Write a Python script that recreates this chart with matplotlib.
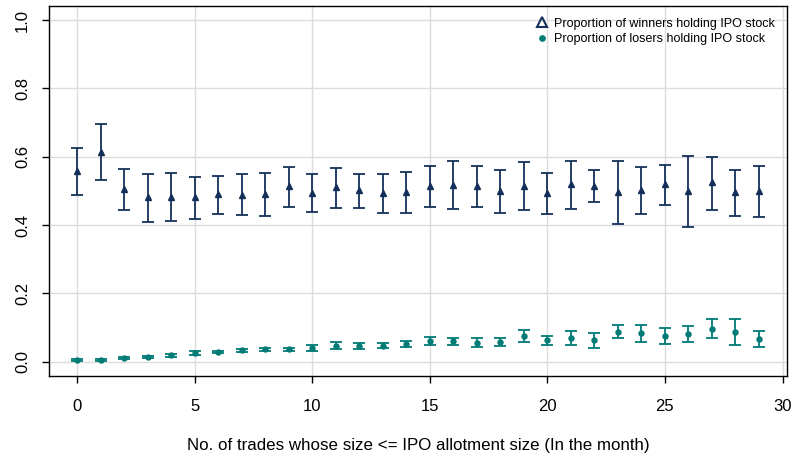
import numpy as np
import matplotlib
matplotlib.use("Agg")
from matplotlib import pyplot as plt
from matplotlib.lines import Line2D

plt.rcParams['font.family'] = ['Liberation Sans', 'DejaVu Sans']

trades = np.arange(0, 30)

# proportion of winners holding IPO stock, with CI bounds
win_mean = [0.558, 0.615, 0.505, 0.482, 0.483, 0.482, 0.490, 0.489, 0.490, 0.513,
            0.495, 0.510, 0.502, 0.493, 0.498, 0.514, 0.518, 0.514, 0.500, 0.515,
            0.493, 0.519, 0.515, 0.498, 0.503, 0.519, 0.500, 0.525, 0.498, 0.500]
win_lo = [0.487, 0.532, 0.443, 0.409, 0.413, 0.419, 0.433, 0.428, 0.427, 0.454,
          0.439, 0.451, 0.449, 0.435, 0.436, 0.453, 0.446, 0.454, 0.434, 0.444,
          0.431, 0.446, 0.466, 0.404, 0.433, 0.459, 0.395, 0.445, 0.427, 0.424]
win_hi = [0.625, 0.695, 0.564, 0.550, 0.551, 0.541, 0.544, 0.548, 0.552, 0.571,
          0.549, 0.568, 0.549, 0.548, 0.555, 0.574, 0.588, 0.573, 0.561, 0.585,
          0.553, 0.588, 0.561, 0.588, 0.571, 0.577, 0.601, 0.600, 0.562, 0.574]

# proportion of losers holding IPO stock, with CI bounds
lose_mean = [0.005, 0.005, 0.011, 0.015, 0.019, 0.025, 0.028, 0.033, 0.036, 0.036,
             0.040, 0.047, 0.046, 0.047, 0.052, 0.060, 0.059, 0.056, 0.058, 0.076,
             0.063, 0.070, 0.062, 0.088, 0.083, 0.076, 0.080, 0.097, 0.087, 0.067]
lose_lo = [0.003, 0.003, 0.008, 0.012, 0.015, 0.020, 0.024, 0.028, 0.031, 0.031,
           0.032, 0.038, 0.038, 0.039, 0.043, 0.049, 0.050, 0.043, 0.047, 0.058,
           0.050, 0.049, 0.039, 0.069, 0.058, 0.053, 0.057, 0.068, 0.048, 0.044]
lose_hi = [0.007, 0.007, 0.014, 0.018, 0.023, 0.030, 0.032, 0.038, 0.041, 0.041,
           0.048, 0.057, 0.055, 0.055, 0.061, 0.071, 0.068, 0.069, 0.069, 0.094,
           0.076, 0.091, 0.085, 0.107, 0.108, 0.099, 0.103, 0.126, 0.126, 0.090]

navy = '#14305a'
teal = '#007b76'

fig = plt.figure(figsize=(7.93, 4.57), dpi=100)
ax = fig.add_axes([0.0624, 0.178, 0.930, 0.808])

wm = np.array(win_mean)
lm = np.array(lose_mean)
ax.errorbar(trades, wm, yerr=[wm - np.array(win_lo), np.array(win_hi) - wm],
            fmt='^', color=navy, ms=4.5, elinewidth=1.3, capsize=4, capthick=1.3, zorder=3)
ax.errorbar(trades, lm, yerr=[lm - np.array(lose_lo), np.array(lose_hi) - lm],
            fmt='o', color=teal, ms=3.6, elinewidth=1.3, capsize=4, capthick=1.3, zorder=3)

ax.set_xlim(-1.17, 30.19)
ax.set_ylim(-0.041, 1.04)
ax.set_xticks(np.arange(0, 31, 5))
ax.set_yticks([0.0, 0.2, 0.4, 0.6, 0.8, 1.0])
ax.set_yticklabels(['0.0', '0.2', '0.4', '0.6', '0.8', '1.0'], rotation=90, va='center')
ax.tick_params(labelsize=12, length=5, width=1, color='black')
ax.tick_params(axis='x', pad=12)
ax.tick_params(axis='y', pad=9)
ax.grid(True, color='#dcdcdc', lw=1)
ax.set_axisbelow(True)
for s in ax.spines.values():
    s.set_color('black')
    s.set_linewidth(1)

ax.set_xlabel('No. of trades whose size <= IPO allotment size (In the month)', fontsize=12.2, labelpad=17)

handles = [Line2D([], [], ls='none', marker='^', ms=6.5, mfc='none', mec=navy, mew=1.5),
           Line2D([], [], ls='none', marker='o', ms=3.8, color=teal)]
ax.legend(handles, ['Proportion of winners holding IPO stock', 'Proportion of losers holding IPO stock'],
          loc='upper right', frameon=False, fontsize=9, handlelength=0.8, handletextpad=0.5,
          labelspacing=0.3, borderaxespad=0.3, bbox_to_anchor=(0.995, 0.993))

fig.savefig('out.png', dpi=100)
